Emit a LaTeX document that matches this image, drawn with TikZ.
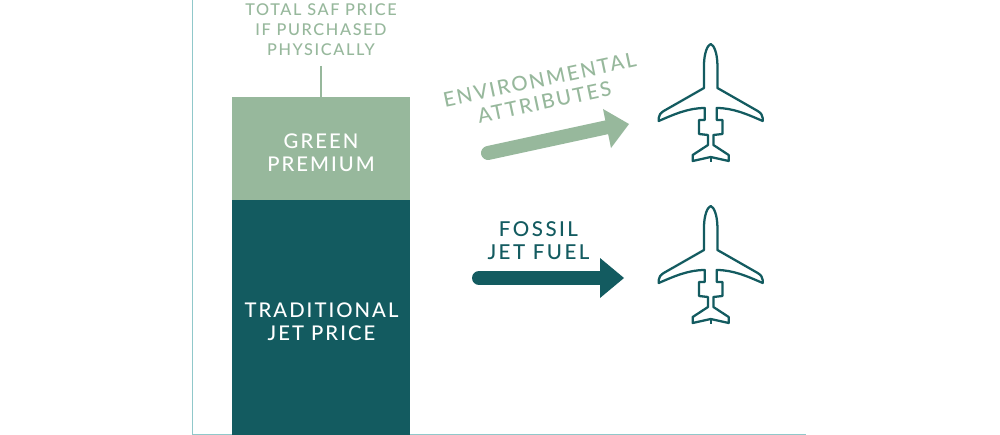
\documentclass[tikz,border=0pt]{standalone}
\usepackage{fontspec}
\setmainfont{Lato Medium}
\definecolor{sage}{HTML}{97B89C}
\definecolor{deep}{HTML}{135B60}
\definecolor{axisc}{HTML}{90C8CA}
\tikzset{
  bar/.style={minimum width=133.5pt, inner sep=0pt, outer sep=0pt, anchor=north west},
  bigtext/.style={font=\fontsize{15.2}{17.2}\selectfont\addfontfeature{LetterSpace=10}, align=center, inner sep=0pt},
  widetext/.style={font=\fontsize{15.4}{17.2}\selectfont\addfontfeature{LetterSpace=12}, align=center, inner sep=0pt},
  smalltext/.style={font=\fontsize{12.2}{15}\selectfont\addfontfeature{LetterSpace=10}, align=center, inner sep=0pt},
  planeline/.style={draw=deep, line width=1.7pt, line join=round, fill=white},
  planestem/.style={draw=deep, line width=1.7pt}
}
\begin{document}
\begin{tikzpicture}[x=0.75pt,y=-0.75pt]
\useasboundingbox (0,0) rectangle (1000,435);
\fill[white] (0,0) rectangle (1000,435);
% axes
\coordinate (axtop) at (192.5,0);
\coordinate (axcorner) at (192.5,434.5);
\coordinate (axend) at (806,434.5);
\draw[axisc, line width=0.9pt] (axtop) -- (axcorner) -- (axend);
% bars
\node[bar, fill=sage, minimum height=76.9pt] (green) at (232,97.5) {};
\node[bar, fill=deep, minimum height=176.5pt] (dark) at (232,200) {};
\node[bigtext, text=white] (greentext) at (321,153) {GREEN\\PREMIUM};
\node[bigtext, text=white] (darktext) at (321.5,322) {TRADITIONAL\\JET PRICE};
% top label
\node[smalltext, text=sage] (toplabel) at (321,30) {TOTAL SAF PRICE\\IF PURCHASED\\PHYSICALLY};
\coordinate (leadtop) at (321,66);
\draw[sage, line width=2pt] (leadtop) -- (green.north -| leadtop);
% green arrow
\coordinate (gs) at (488,153);
\coordinate (ge) at (608,127);
\draw[sage, line width=10.5pt, line cap=round] (gs) -- (ge);
\fill[sage] (603,109) -- (629,124) -- (611,148) -- cycle;
\node[bigtext, text=sage, rotate=12] (envtext) at (542,91) {ENVIRONMENTAL\\ATTRIBUTES};
% dark arrow
\coordinate (ds) at (479,278);
\coordinate (de) at (602,278);
\draw[deep, line width=10.5pt, line cap=round] (ds) -- (de);
\fill[deep] (600,258) -- (624,278) -- (600,298) -- cycle;
\node[widetext, text=deep] (fossil) at (538.5,241) {FOSSIL\\JET FUEL};
% planes
\foreach \py in {44,206} {
\begin{scope}[shift={(710.7,\py)}]
\draw[planeline] (0,0) .. controls (3.5,1) and (6.5,10) .. (6.7,20) -- (6.7,44) -- (47,67) .. controls (50,69) and (52,71) .. (52,74) -- (52,77) .. controls (36,70) and (22,64) .. (6,64) -- (6,76) -- (11.7,76) -- (11.7,90) -- (2.7,91) -- (2.7,101) -- (18,111) -- (18,117) -- (0,113) -- (-18,117) -- (-18,111) -- (-2.7,101) -- (-2.7,91) -- (-11.7,90) -- (-11.7,76) -- (-6,76) -- (-6,64) .. controls (-22,64) and (-36,70) .. (-52,77) -- (-52,74) .. controls (-52,71) and (-50,69) .. (-47,67) -- (-6.7,44) -- (-6.7,20) .. controls (-6.5,10) and (-3.5,1) .. (0,0) -- cycle;
\draw[planestem] (0,113) -- (0,118);
\end{scope}
}
\end{tikzpicture}
\end{document}
